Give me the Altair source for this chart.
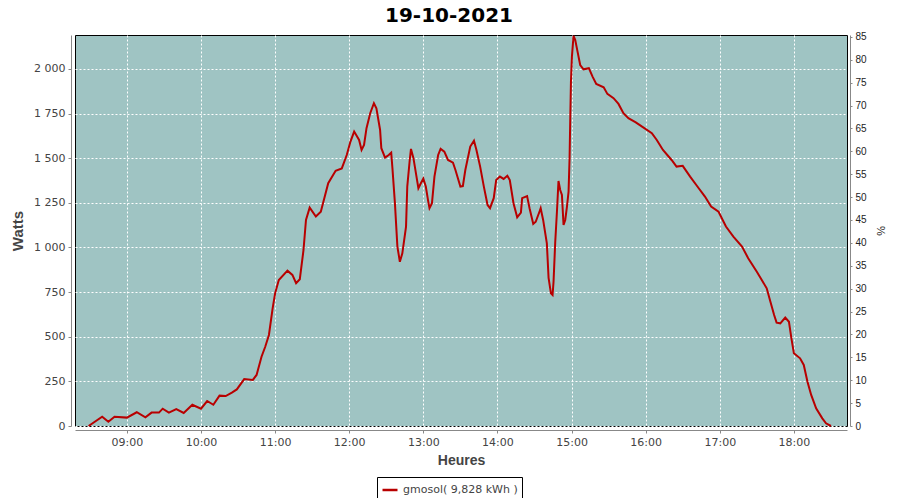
import altair as alt
import pandas as pd

DAY = "2021-10-19"
SERIES = "gmosol( 9,828 kWh )"

times = [
    "08:29", "08:40", "08:45", "08:50", "09:00", "09:08", "09:15", "09:20", "09:26", "09:29",
    "09:34", "09:40", "09:46", "09:53", "10:00", "10:05", "10:10", "10:15", "10:20", "10:25",
    "10:29", "10:35", "10:42", "10:45", "10:49", "10:52", "10:55", "10:58", "11:00", "11:03",
    "11:10", "11:14", "11:17", "11:20", "11:23", "11:25", "11:28", "11:33", "11:37", "11:43",
    "11:49", "11:54", "11:58", "12:01", "12:04", "12:08", "12:10", "12:12", "12:14", "12:17",
    "12:20", "12:22", "12:25", "12:26", "12:29", "12:32", "12:34", "12:35", "12:37", "12:39",
    "12:41", "12:43", "12:46", "12:47", "12:49", "12:50", "12:52", "12:54", "12:56", "12:58",
    "13:00", "13:02", "13:04", "13:05", "13:07", "13:09", "13:12", "13:14", "13:17", "13:20",
    "13:24", "13:26", "13:30", "13:32", "13:34", "13:38", "13:41", "13:43", "13:46", "13:49",
    "13:52", "13:54", "13:57", "13:59", "14:02", "14:05", "14:08", "14:10", "14:13", "14:16",
    "14:19", "14:20", "14:24", "14:26", "14:29", "14:31", "14:34", "14:35", "14:37", "14:40",
    "14:41:24", "14:43:19", "14:44:38", "14:45:25", "14:46:48", "14:48:10", "14:49:26",
    "14:50:49", "14:52:12", "14:53:31", "14:54:54", "14:56:17", "14:57:35", "14:58:24",
    "14:58:58", "14:59:31", "15:00:18", "15:01:36", "15:03:00", "15:04:51", "15:07:00",
    "15:09:43", "15:14", "15:17", "15:20", "15:26", "15:29", "15:34", "15:38", "15:42",
    "15:46", "15:52", "15:58", "16:05", "16:09", "16:14", "16:21", "16:25", "16:30", "16:36",
    "16:41", "16:48", "16:53", "16:59", "17:05", "17:11", "17:18", "17:23", "17:30", "17:34",
    "17:38", "17:41", "17:44", "17:46", "17:49", "17:53", "17:56", "17:58", "18:00", "18:05",
    "18:08", "18:11", "18:14", "18:18", "18:23", "18:26", "18:30",
]

watts = [
    0, 52, 24, 52, 47, 77, 49, 75, 75, 97,
    75, 95, 73, 119, 97, 140, 119, 170, 168, 187,
    205, 263, 258, 286, 388, 444, 510, 659, 743, 818,
    870, 846, 800, 822, 986, 1154, 1223, 1173, 1200, 1360,
    1430, 1443, 1518, 1593, 1649, 1602, 1546, 1574, 1668, 1752,
    1808, 1780, 1658, 1556, 1503, 1518, 1531, 1443, 1248, 1005,
    920, 967, 1117, 1341, 1490, 1552, 1500, 1416, 1332, 1360,
    1386, 1341, 1257, 1220, 1248, 1397, 1518, 1552, 1537, 1490,
    1475, 1434, 1341, 1344, 1434, 1565, 1598, 1546, 1453, 1341,
    1238, 1220, 1276, 1378, 1397, 1384, 1402, 1378, 1248, 1169,
    1195, 1276, 1288, 1220, 1132, 1144, 1200, 1220, 1154, 1023,
    830, 743, 734, 808, 1032, 1200, 1372,
    1322, 1294, 1126, 1154, 1229, 1313, 1500,
    1724, 1929, 2069, 2185, 2162, 2097, 2022,
    1998, 2004, 1957, 1916, 1897, 1860, 1836, 1804, 1752,
    1724, 1701, 1673, 1640, 1602, 1546, 1490, 1453, 1457, 1397,
    1350, 1285, 1229, 1200, 1117, 1061, 1005, 940, 864, 818,
    771, 696, 622, 579, 575, 607, 584, 491, 407, 379,
    342, 248, 174, 99, 43, 15, 0,
]

watt_ticks = [0, 250, 500, 750, 1000, 1250, 1500, 1750, 2000]
pct_ticks = list(range(0, 90, 5))
watt_domain = [0, 2190]
pct_domain = [0, 85.4]
hour_ticks = list(range(9, 19))

df = pd.DataFrame({
    "t": [f"{DAY}T{t}" for t in times],
    "w": watts,
    "serie": SERIES,
})
pct_df = pd.DataFrame({"p": pct_domain})

FONT = "DejaVu Sans"
TFONT = "Liberation Sans"


def dt(h, m=0):
    return alt.DateTime(year=2021, month=10, date=19, hours=h, minutes=m)


x_enc = alt.X(
    "t:T",
    scale=alt.Scale(domain=[dt(8, 18), dt(18, 43)]),
    axis=alt.Axis(
        title="Heures", values=[dt(h) for h in hour_ticks], format="%H:%M",
        offset=4, tickSize=3, labelPadding=3, domainColor="#888888", tickColor="#888888",
        labelFont=FONT, labelFontSize=11, labelColor="#444444",
        titleFont=TFONT, titleFontSize=14, titleFontWeight="bold", titleColor="#444444",
        titlePadding=6, grid=True, gridColor="white", gridDash=[2, 2], gridOpacity=1,
    ),
)

line = alt.Chart(df).mark_line(strokeWidth=2).encode(
    x=x_enc,
    y=alt.Y(
        "w:Q",
        scale=alt.Scale(domain=watt_domain, nice=False, zero=True),
        axis=alt.Axis(
            title="Watts", values=watt_ticks, orient="left",
            labelExpr="replace(format(datum.value, ','), ',', ' ')",
            offset=4, tickSize=3, labelPadding=3, domainColor="#888888", tickColor="#888888",
            labelFont=FONT, labelFontSize=11, labelColor="#444444",
            titleFont=TFONT, titleFontSize=15, titleFontWeight="bold", titleColor="#444444",
            titlePadding=8, grid=True, gridColor="white", gridDash=[2, 2], gridOpacity=1,
        ),
    ),
    color=alt.Color(
        "serie:N",
        scale=alt.Scale(range=["#b80000"]),
        legend=alt.Legend(
            title=None, orient="none", legendX=302, legendY=442,
            symbolType="stroke", symbolStrokeWidth=2.5, symbolSize=225,
            labelFont=FONT, labelFontSize=11, labelColor="#444444", labelOffset=4,
            strokeColor="black", fillColor="white", padding=4,
        ),
    ),
)

pct = alt.Chart(pct_df).mark_point(opacity=0).encode(
    y=alt.Y(
        "p:Q",
        scale=alt.Scale(domain=pct_domain, nice=False, zero=True),
        axis=alt.Axis(
            title="%", values=pct_ticks, orient="right",
            offset=3, tickSize=2, labelPadding=3, domainColor="#888888", tickColor="#888888",
            labelFont=TFONT, labelFontSize=10, labelColor="#222222",
            titleFont=TFONT, titleFontSize=11, titleFontWeight="normal", titleColor="#222222",
            titlePadding=8, grid=False,
        ),
    ),
)

chart = (
    alt.layer(line, pct)
    .resolve_scale(y="independent")
    .properties(
        width=772,
        height=391,
        autosize=alt.AutoSizeParams(type="none"),
        padding={"left": 67, "top": 27, "right": 45, "bottom": 72},
        title=alt.TitleParams(
            "19-10-2021", font=FONT, fontSize=20, fontWeight="bold", color="black",
            anchor="middle", dx=-12, offset=6,
        ),
    )
    .configure(background="white")
    .configure_view(fill="#9fc4c3", stroke="black", strokeWidth=1)
)

chart.save("out.html", embed_options={"renderer": "svg", "actions": False})
